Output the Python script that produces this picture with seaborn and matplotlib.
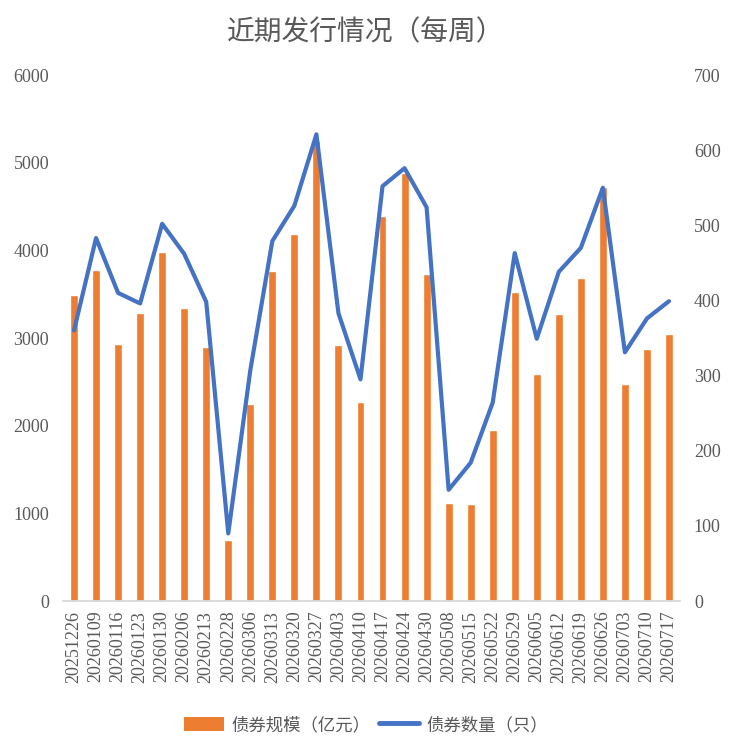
import numpy as np
import pandas as pd
import matplotlib
matplotlib.use('Agg')
import matplotlib.pyplot as plt
import seaborn as sns
from matplotlib.patches import Patch
from matplotlib.lines import Line2D

# 数据
weeks = ['20251226', '20260109', '20260116', '20260123', '20260130', '20260206', '20260213',
         '20260228', '20260306', '20260313', '20260320', '20260327', '20260403', '20260410',
         '20260417', '20260424', '20260430', '20260508', '20260515', '20260522', '20260529',
         '20260605', '20260612', '20260619', '20260626', '20260703', '20260710', '20260717']
scale = [3490, 3770, 2930, 3280, 3980, 3340, 2895, 700, 2250, 3760, 4185, 5245, 2915, 2275,
         4390, 4885, 3725, 1120, 1110, 1945, 3530, 2585, 3270, 3680, 4725, 2480, 2880, 3040]
count = [360, 483, 410, 396, 502, 462, 398, 90, 307, 479, 526, 621, 383, 295,
         552, 576, 524, 148, 184, 264, 463, 349, 438, 470, 550, 331, 376, 399]

df = pd.DataFrame({'week': weeks, 'scale': scale, 'count': count})
df['pos'] = np.arange(len(df))

sns.set_style('white')
plt.rcParams['font.family'] = ['Liberation Serif', 'Noto Sans CJK SC', 'DejaVu Sans']

ORANGE = '#ED7D31'
BLUE = '#4472C4'
GREY = '#595959'

fig = plt.figure(figsize=(7.32, 7.54), dpi=100)
ax = fig.add_axes([63 / 732, 1 - 601 / 754, 617 / 732, 526 / 754])

sns.barplot(data=df, x='week', y='scale', color=ORANGE, width=0.36,
            saturation=1, ax=ax)
ax.set_ylim(0, 6000)
ax.set_yticks(range(0, 6001, 1000))
ax.set_xlim(-0.5, len(df) - 0.5)
ax.set_xlabel('')
ax.set_ylabel('')

ax2 = ax.twinx()
sns.lineplot(data=df, x='pos', y='count', color=BLUE, linewidth=3, ax=ax2)
ax2.set_ylim(0, 700)
ax2.set_yticks(range(0, 701, 100))
ax2.set_xlim(-0.5, len(df) - 0.5)
ax2.set_ylabel('')

for a in (ax, ax2):
    for s in a.spines.values():
        s.set_visible(False)
    a.tick_params(length=0, colors=GREY, labelsize=13)
ax.spines['bottom'].set_visible(True)
ax.spines['bottom'].set_color('#D9D9D9')
ax.spines['bottom'].set_linewidth(1.3)
ax.tick_params(axis='y', pad=10)
ax2.tick_params(axis='y', pad=10)
ax.tick_params(axis='x', labelrotation=90, labelsize=13, pad=7)

fig.text(0.5, 1 - 32 / 754, '近期发行情况（每周）', ha='center', va='center',
         fontsize=20, color=GREY, family=['Noto Sans CJK SC', 'DejaVu Sans'])

handles = [Patch(facecolor=ORANGE, edgecolor='none'),
           Line2D([0], [0], color=BLUE, linewidth=3.5)]
fig.legend(handles, ['债券规模（亿元）', '债券数量（只）'], loc='center',
           bbox_to_anchor=(0.5, 1 - 725 / 754), ncol=2, frameon=False,
           prop={'family': ['Noto Sans CJK SC', 'DejaVu Sans'], 'size': 12.5},
           labelcolor=GREY, handlelength=2.3, handleheight=0.9, columnspacing=0.5,
           handletextpad=0.4)

fig.savefig('out.png', dpi=100)
